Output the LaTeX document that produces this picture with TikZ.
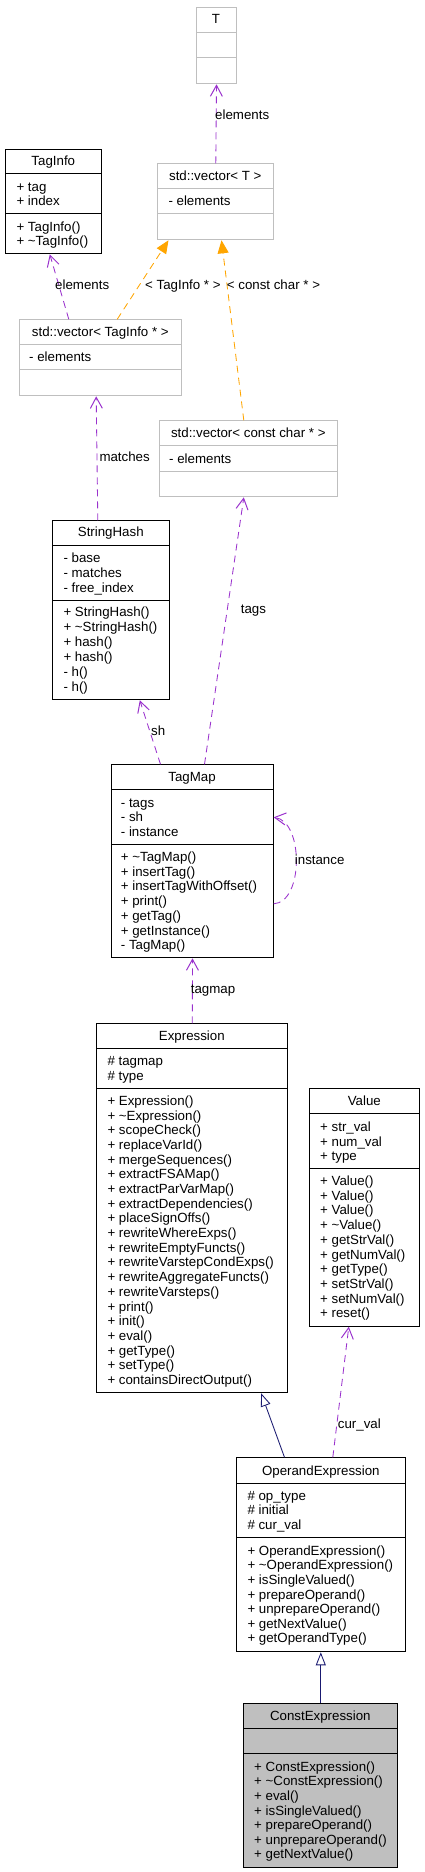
\documentclass[tikz,border=0pt]{standalone}
\usepackage{fontspec}
\setmainfont{Liberation Sans}
\usetikzlibrary{arrows.meta}
\definecolor{edgepurple}{HTML}{9A32CD}
\definecolor{edgeorange}{HTML}{FFA500}
\definecolor{edgenavy}{HTML}{191970}
\definecolor{boxgray}{HTML}{BFBFBF}
\newcommand\fs{\fontsize{13.3}{14.7}\selectfont}
\newcommand\rows[2]{{\fontsize{13.3}{#1}\selectfont\begin{tabular}[t]{@{}l@{}}#2\end{tabular}}}
\newcommand\cbox[6]{\node[#6, minimum width={(#4)-(#2)}, minimum height={(#5)-(#3)}] (#1) at (#2,#3) {};}
\newcommand\tl{\textasciitilde{}}
\tikzset{
  box/.style={draw=black, line width=1pt, inner sep=0pt, anchor=north west},
  graybox/.style={box, draw=boxgray},
  fillbox/.style={box, fill=boxgray},
  divline/.style={line width=1pt, draw=black},
  graydiv/.style={line width=1pt, draw=boxgray},
  title/.style={anchor=base, inner sep=0pt, font=\fs},
  member/.style={anchor=base west, inner sep=0pt, font=\fs},
  lbl/.style={anchor=base west, inner sep=0pt, font=\fs},
  uses/.style={draw=edgepurple, line width=0.85pt, dash pattern=on 7pt off 5pt, -{Straight Barb[length=11pt,width=12pt,line width=1pt]}},
  templ/.style={draw=edgeorange, line width=0.85pt, dash pattern=on 7pt off 5pt, -{Triangle[length=13pt,width=11pt]}},
  inherit/.style={draw=edgenavy, line width=0.85pt, -{Triangle[open,length=13pt,width=10pt,fill=white]}}
}
\begin{document}
\begin{tikzpicture}[x=1pt,y=-1pt]
\useasboundingbox (0,0) rectangle (424,1872);
% T
\cbox{T}{196.3}{7.3}{235.7}{83.3}{graybox}
\draw[graydiv] (196.3,32.3) -- (235.7,32.3);
\draw[graydiv] (196.3,57.3) -- (235.7,57.3);
\node[title] (Tt) at (216,23.8) {T};
% TagInfo
\cbox{taginfo}{5.3}{148.7}{101.3}{253.3}{box}
\draw[divline] (5.3,173.3) -- (101.3,173.3);
\draw[divline] (5.3,213.3) -- (101.3,213.3);
\node[title] (taginfot) at (53.3,165.2) {TagInfo};
\node[member] (taginfoa) at (16.3,191.8) {\rows{13.6}{+ tag\\+ index}};
\node[member] (taginfom) at (16.3,231.2) {\rows{14}{+ TagInfo()\\+ \tl TagInfo()}};
% vector<T>
\cbox{vecT}{157.3}{163.3}{273.3}{239.3}{graybox}
\draw[graydiv] (157.3,188.3) -- (273.3,188.3);
\draw[graydiv] (157.3,213.3) -- (273.3,213.3);
\node[title] (vecTt) at (215.3,180.2) {std::vector< T >};
\node[member] (vecTa) at (168.3,205.2) {- elements};
% vector<TagInfo*>
\cbox{vecTI}{19.3}{319.3}{181.3}{395.3}{graybox}
\draw[graydiv] (19.3,344.3) -- (181.3,344.3);
\draw[graydiv] (19.3,369.3) -- (181.3,369.3);
\node[title] (vecTIt) at (100.3,336.2) {std::vector< TagInfo * >};
\node[member] (vecTIa) at (29,361.2) {- elements};
% vector<const char*>
\cbox{vecCC}{159.3}{420.3}{337.3}{496.3}{graybox}
\draw[graydiv] (159.3,445.3) -- (337.3,445.3);
\draw[graydiv] (159.3,471.7) -- (337.3,471.7);
\node[title] (vecCCt) at (248.3,437.2) {std::vector< const char * >};
\node[member] (vecCCa) at (169,463.2) {- elements};
% StringHash
\cbox{SH}{52.3}{520.3}{169.3}{699.3}{box}
\draw[divline] (52.3,545.7) -- (169.3,545.7);
\draw[divline] (52.3,600.3) -- (169.3,600.3);
\node[title] (SHt) at (110.8,536.8) {StringHash};
\node[member] (SHa) at (63.3,562.8) {\rows{14.7}{- base\\- matches\\- free\_index}};
\node[member] (SHm) at (63.3,616.8) {\rows{14.9}{+ StringHash()\\+ \tl StringHash()\\+ hash()\\+ hash()\\- h()\\- h()}};
% TagMap
\cbox{TM}{111.3}{764.3}{272.7}{957.3}{box}
\draw[divline] (111.3,789.3) -- (272.7,789.3);
\draw[divline] (111.3,844.3) -- (272.7,844.3);
\node[title] (TMt) at (192,781.2) {TagMap};
\node[member] (TMa) at (120.7,807.2) {\rows{14.5}{- tags\\- sh\\- instance}};
\node[member] (TMm) at (120.7,861.5) {\rows{14.7}{+ \tl TagMap()\\+ insertTag()\\+ insertTagWithOffset()\\+ print()\\+ getTag()\\+ getInstance()\\- TagMap()}};
% Expression
\cbox{Expr}{96.3}{1023.3}{287.3}{1392.3}{box}
\draw[divline] (96.3,1048.3) -- (287.3,1048.3);
\draw[divline] (96.3,1088.3) -- (287.3,1088.3);
\node[title] (Exprt) at (191.8,1040.2) {Expression};
\node[member] (Expra) at (107.3,1065.5) {\rows{14.7}{\# tagmap\\\# type}};
\node[member] (Exprm) at (107.3,1105.5) {\rows{14.68}{+ Expression()\\+ \tl Expression()\\+ scopeCheck()\\+ replaceVarId()\\+ mergeSequences()\\+ extractFSAMap()\\+ extractParVarMap()\\+ extractDependencies()\\+ placeSignOffs()\\+ rewriteWhereExps()\\+ rewriteEmptyFuncts()\\+ rewriteVarstepCondExps()\\+ rewriteAggregateFuncts()\\+ rewriteVarsteps()\\+ print()\\+ init()\\+ eval()\\+ getType()\\+ setType()\\+ containsDirectOutput()}};
% Value
\cbox{Value}{309.3}{1088.3}{419.3}{1325.7}{box}
\draw[divline] (309.3,1113.3) -- (419.3,1113.3);
\draw[divline] (309.3,1168.3) -- (419.3,1168.3);
\node[title] (Valuet) at (364.3,1105.2) {Value};
\node[member] (Valuea) at (320,1131.8) {\rows{14.5}{+ str\_val\\+ num\_val\\+ type}};
\node[member] (Valuem) at (320,1185.5) {\rows{14.7}{+ Value()\\+ Value()\\+ Value()\\+ \tl Value()\\+ getStrVal()\\+ getNumVal()\\+ getType()\\+ setStrVal()\\+ setNumVal()\\+ reset()}};
% OperandExpression
\cbox{OpExp}{236.3}{1457.3}{405.3}{1651.3}{box}
\draw[divline] (236.3,1483.7) -- (405.3,1483.7);
\draw[divline] (236.3,1537.7) -- (405.3,1537.7);
\node[title] (OpExpt) at (320.8,1475.2) {OperandExpression};
\node[member] (OpExpa) at (247.3,1500.2) {\rows{14.7}{\# op\_type\\\# initial\\\# cur\_val}};
\node[member] (OpExpm) at (247.3,1555.2) {\rows{14.6}{+ OperandExpression()\\+ \tl OperandExpression()\\+ isSingleValued()\\+ prepareOperand()\\+ unprepareOperand()\\+ getNextValue()\\+ getOperandType()}};
% ConstExpression
\cbox{Const}{243.3}{1703.3}{397.3}{1867.3}{fillbox}
\draw[divline] (243.3,1728.7) -- (397.3,1728.7);
\draw[divline] (243.3,1753.7) -- (397.3,1753.7);
\node[title] (Constt) at (320.3,1720.2) {ConstExpression};
\node[member] (Constm) at (254,1771.2) {\rows{14.6}{+ ConstExpression()\\+ \tl ConstExpression()\\+ eval()\\+ isSingleValued()\\+ prepareOperand()\\+ unprepareOperand()\\+ getNextValue()}};
% edges
\draw[uses] (vecT.north) -- (T.south);
\draw[uses] ([xshift=-32pt]vecTI.north) -- ([xshift=-4pt]taginfo.south);
\draw[templ] ([xshift=16.4pt]vecTI.north) -- ([xshift=-47.3pt]vecT.south);
\draw[templ] ([xshift=-5pt]vecCC.north) -- ([xshift=5.7pt]vecT.south);
\draw[uses] ([xshift=-13.5pt]SH.north) -- ([xshift=-4.6pt]vecTI.south);
\draw[uses] ([xshift=12pt]TM.north) -- ([xshift=-5pt]vecCC.south);
\draw[uses] ([xshift=-32pt]TM.north) -- ([xshift=28.5pt]SH.south);
\draw[uses] ([yshift=-42.5pt]TM.east) .. controls ([xshift=30pt,yshift=-41pt]TM.east) and ([xshift=30pt,yshift=40pt]TM.east) .. ([yshift=44pt]TM.east);
\draw[uses] (Expr.north) -- (TM.south);
\draw[inherit] ([xshift=-36.8pt]OpExp.north) -- ([xshift=68.9pt]Expr.south);
\draw[uses] ([xshift=11.5pt]OpExp.north) -- ([xshift=-16pt]Value.south);
\draw[inherit] (Const.north) -- (Const.north |- OpExp.south);
% labels
\node[lbl] (l1) at (215,119.2) {elements};
\node[lbl] (l2) at (55,289.5) {elements};
\node[lbl] (l3) at (145,289.5) {< TagInfo * >};
\node[lbl] (l4) at (226.7,289.5) {< const char * >};
\node[lbl] (l5) at (99.3,461.2) {matches};
\node[lbl] (l6) at (240.7,613.5) {tags};
\node[lbl] (l7) at (151,735.2) {sh};
\node[lbl] (l8) at (294.7,864.5) {instance};
\node[lbl] (l9) at (190.7,993.5) {tagmap};
\node[lbl] (l10) at (337.7,1428.5) {cur\_val};
\end{tikzpicture}
\end{document}
